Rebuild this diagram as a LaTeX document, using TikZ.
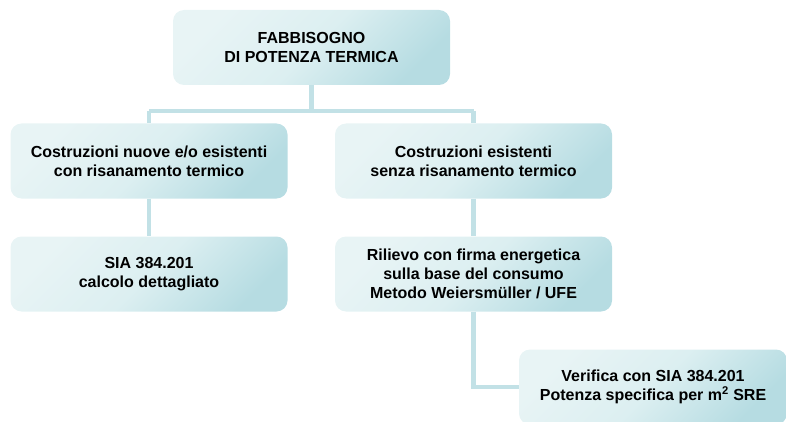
\documentclass[tikz,border=0pt]{standalone}
\usepackage{fontspec}
\setmainfont{Liberation Sans}
\usetikzlibrary{backgrounds}
\begin{document}
\begin{tikzpicture}[x=1pt,y=-1pt,
  box/.style={rounded corners=11pt, shading=axis, left color=boxlight, right color=boxdark, middle color=boxmid, shading angle=45,
    minimum height=75pt, align=center, font=\bfseries\fontsize{16}{19}\selectfont, text=black, inner sep=0pt},
  conn/.style={draw=linec, line width=4.5pt}]
\definecolor{boxlight}{HTML}{E8F4F5}
\definecolor{boxmid}{HTML}{DCEFF1}
\definecolor{boxdark}{HTML}{B6DCE2}
\definecolor{linec}{HTML}{C2E1E6}
\useasboundingbox (0,0) rectangle (786,422);
\node[box, minimum width=277pt] (top) at (311.5,47.5) {FABBISOGNO\\DI POTENZA TERMICA};
\node[box, minimum width=277pt] (l2) at (149,161) {Costruzioni nuove e/o esistenti\\con risanamento termico};
\node[box, minimum width=277pt] (r2) at (473.5,161) {Costruzioni esistenti\\senza risanamento termico};
\node[box, minimum width=277pt] (l3) at (149,274) {SIA 384.201\\calcolo dettagliato};
\node[box, minimum width=277pt] (r3) at (473.5,274) {Rilievo con firma energetica\\sulla base del consumo\\Metodo Weiersmüller / UFE};
\node[box, minimum width=268pt] (v4) at (653,387) {Verifica con SIA 384.201\\Potenza specifica per m\textsuperscript{2} SRE};
\coordinate (hm) at (311.5,111);
\coordinate (hl) at (149,111);
\coordinate (hr) at (473.5,111);
\coordinate (bend) at (473.5,387);
\begin{pgfonlayer}{background}
\draw[conn] (top.south) -- (hm);
\draw[conn] (hl) -- (hr);
\draw[conn] (hl) -- (l2.north);
\draw[conn] (hr) -- (r2.north);
\draw[conn] (l2.south) -- (l3.north);
\draw[conn] (r2.south) -- (r3.north);
\draw[conn] (r3.south) -- (bend) -- (v4.west);
\end{pgfonlayer}
\end{tikzpicture}
\end{document}
